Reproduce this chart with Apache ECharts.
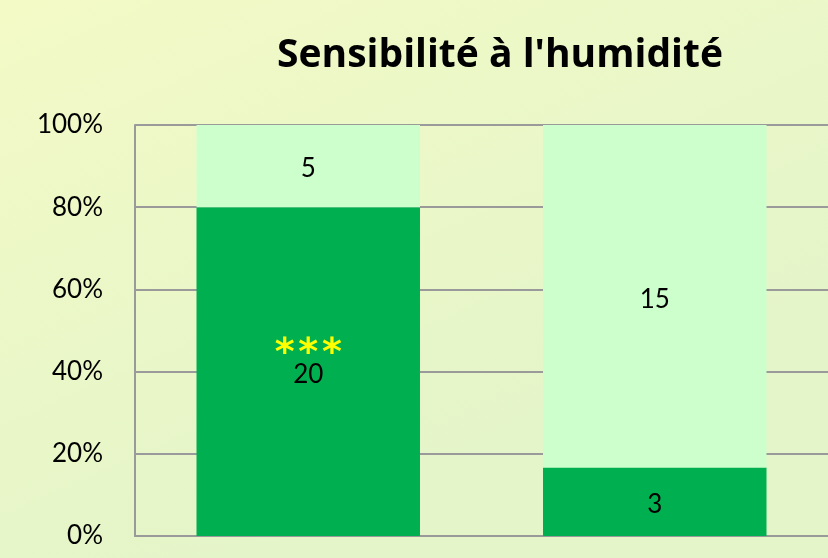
<!DOCTYPE html>
<html>
<head>
<meta charset="utf-8">
<script src="https://cdn.jsdelivr.net/npm/echarts@6/dist/echarts.min.js"></script>
<style>
  html, body { margin: 0; padding: 0; }
  #main { width: 828px; height: 558px; }
</style>
</head>
<body>
<div id="main"></div>
<script>
// données
var categories = ['Groupe 1', 'Groupe 2'];
var sensibles = [20, 3];
var nonSensibles = [5, 15];
var signif = ['***', ''];
var yTicks = [0, 20, 40, 60, 80, 100];

var totals = sensibles.map(function (v, i) { return v + nonSensibles[i]; });
function pct(arr) {
    return arr.map(function (v, i) { return v / totals[i] * 100; });
}

var chart = echarts.init(document.getElementById('main'));
var labelFont = { fontFamily: 'Lato', fontSize: 26, color: '#000' };

var option = {
    backgroundColor: new echarts.graphic.LinearGradient(0, 0, 0.3, 1, [
        {offset: 0, color: '#f3fac6'},
        {offset: 1, color: '#e4f5c9'}
    ]),
    title: {
        text: "Sensibilité à l'humidité",
        left: 495,
        textAlign: 'center',
        top: 31,
        textStyle: {
            fontFamily: 'Open Sans',
            fontWeight: 'bold',
            fontSize: 39,
            color: '#000'
        }
    },
    grid: {
        left: 135,
        right: -3,
        top: 125,
        bottom: 22
    },
    xAxis: {
        type: 'category',
        data: categories,
        axisLine: { lineStyle: { color: '#9a9a9a', width: 2 } },
        axisTick: { show: false },
        axisLabel: { show: false }
    },
    yAxis: {
        type: 'value',
        min: yTicks[0],
        max: yTicks[yTicks.length - 1],
        interval: 20,
        axisLine: { show: true, lineStyle: { color: '#9a9a9a', width: 2 } },
        axisTick: { show: false },
        splitLine: { lineStyle: { color: '#9a9a9a', width: 2 } },
        axisLabel: {
            formatter: '{value}%',
            margin: 32,
            fontFamily: 'Lato',
            fontSize: 26,
            color: '#000'
        }
    },
    series: [
        {
            name: 'sensible',
            type: 'bar',
            stack: 'tot',
            barCategoryGap: '35.5%',
            itemStyle: { color: '#00b050' },
            data: pct(sensibles),
            label: {
                show: true,
                position: 'inside',
                offset: [0, 3],
                formatter: function (p) {
                    var s = signif[p.dataIndex];
                    if (s) {
                        return '{s|' + s.split('').join('\u200A') + '}\n{v|' + sensibles[p.dataIndex] + '}\n{e| }';
                    }
                    return '{v|' + sensibles[p.dataIndex] + '}';
                },
                rich: {
                    s: { color: '#ffff00', fontSize: 38, fontWeight: 'bold', fontFamily: 'DejaVu Sans', lineHeight: 14 },
                    v: { fontFamily: 'Lato', fontSize: 26, color: '#000', lineHeight: 26 },
                    e: { fontSize: 10, lineHeight: 14 }
                }
            }
        },
        {
            name: 'non sensible',
            type: 'bar',
            stack: 'tot',
            itemStyle: { color: '#ccffcc' },
            data: pct(nonSensibles),
            label: {
                show: true,
                position: 'inside',
                offset: [0, 3],
                formatter: function (p) { return nonSensibles[p.dataIndex]; },
                fontFamily: labelFont.fontFamily,
                fontSize: labelFont.fontSize,
                color: labelFont.color
            }
        }
    ]
};
chart.setOption(option);
window.onresize = chart.resize;
</script>
</body>
</html>
